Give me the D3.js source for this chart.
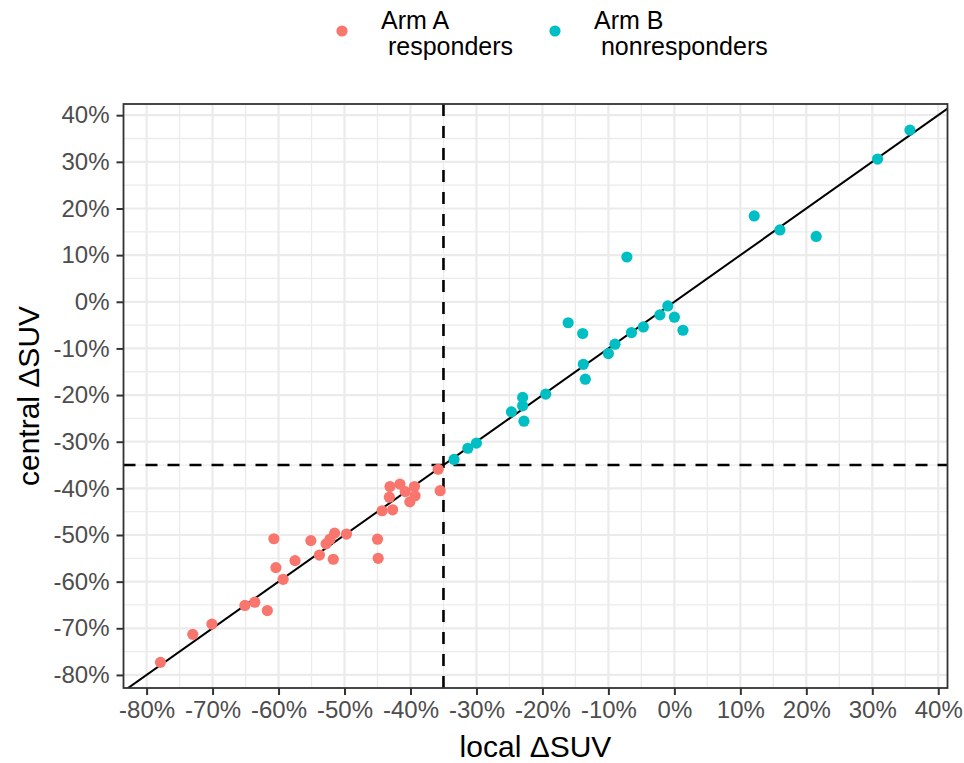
<!DOCTYPE html>
<html>
<head>
<meta charset="utf-8">
<script src="https://cdn.jsdelivr.net/npm/d3@7"></script>
<style>
  body { margin: 0; background: #fff; }
  text { font-family: "Liberation Sans", Arial, sans-serif; }
</style>
</head>
<body>
<svg id="chart" width="964" height="763"></svg>
<script>
// local vs central change in SUV (%)
var armAlocal   = [-77.9, -73.0, -70.1, -65.1, -63.6, -61.7, -59.3, -60.4, -60.7, -57.5,
                   -55.1, -53.8, -52.8, -52.2, -51.5, -51.7, -49.7, -45.0, -44.9, -44.3,
                   -42.7, -43.1, -43.2, -41.6, -40.8, -40.1, -39.4, -39.3, -35.8, -35.5];
var armAcentral = [-77.3, -71.3, -69.1, -65.1, -64.4, -66.2, -59.5, -57.0, -50.8, -55.5,
                   -51.2, -54.3, -51.9, -50.9, -49.6, -55.2, -49.8, -50.9, -55.0, -44.8,
                   -44.6, -39.6, -41.9, -39.1, -40.7, -42.9, -39.6, -41.6, -35.9, -40.5];
var armBlocal   = [-33.4, -31.3, -30.0, -24.7, -23.0, -23.0, -22.8, -19.5, -16.1, -13.9,
                   -13.8, -13.5, -10.0, -9.0, -7.2, -6.5, -4.7, -2.2, -1.0, 0.0,
                   1.3, 12.1, 16.0, 21.5, 30.8, 35.7];
var armBcentral = [-33.8, -31.4, -30.3, -23.6, -20.5, -22.3, -25.6, -19.8, -4.5, -6.8,
                   -13.4, -16.6, -11.1, -9.1, 9.6, -6.6, -5.4, -2.8, -0.9, -3.3,
                   -6.1, 18.4, 15.4, 14.0, 30.6, 36.8];
var tickValues = [-80, -70, -60, -50, -40, -30, -20, -10, 0, 10, 20, 30, 40];
var cutoff = -35;
var groups = ['Arm A\n responders', 'Arm B\n nonresponders'];
var colors = ['#F8766D', '#00BFC4'];

var points = [];
armAlocal.forEach(function(v, i){ points.push({x: v, y: armAcentral[i], g: 0}); });
armBlocal.forEach(function(v, i){ points.push({x: v, y: armBcentral[i], g: 1}); });

var svg = d3.select('#chart');
var m = {left: 123.5, right: 16.5, top: 104, bottom: 75};
var W = 964, H = 763;

var x = d3.scaleLinear().domain([-83.5, 41.4]).range([m.left, W - m.right]);
var y = d3.scaleLinear().domain([-82.8, 42.4]).range([H - m.bottom, m.top]);

svg.append('defs').append('clipPath').attr('id', 'panel')
  .append('rect')
  .attr('x', m.left).attr('y', m.top)
  .attr('width', W - m.left - m.right).attr('height', H - m.top - m.bottom);

var plot = svg.append('g').attr('clip-path', 'url(#panel)');

// grid, minor then major
var minor = d3.range(-85, 45, 10);
plot.selectAll('.minx').data(minor).enter().append('line')
  .attr('x1', function(d){ return x(d); }).attr('x2', function(d){ return x(d); })
  .attr('y1', m.top).attr('y2', H - m.bottom)
  .style('stroke', '#EBEBEB').style('stroke-width', 1.3);
plot.selectAll('.miny').data(minor).enter().append('line')
  .attr('y1', function(d){ return y(d); }).attr('y2', function(d){ return y(d); })
  .attr('x1', m.left).attr('x2', W - m.right)
  .style('stroke', '#EBEBEB').style('stroke-width', 1.3);
plot.selectAll('.majx').data(tickValues).enter().append('line')
  .attr('x1', function(d){ return x(d); }).attr('x2', function(d){ return x(d); })
  .attr('y1', m.top).attr('y2', H - m.bottom)
  .style('stroke', '#EBEBEB').style('stroke-width', 2.2);
plot.selectAll('.majy').data(tickValues).enter().append('line')
  .attr('y1', function(d){ return y(d); }).attr('y2', function(d){ return y(d); })
  .attr('x1', m.left).attr('x2', W - m.right)
  .style('stroke', '#EBEBEB').style('stroke-width', 2.2);

// identity line
plot.append('line')
  .attr('x1', x(-90)).attr('y1', y(-90))
  .attr('x2', x(50)).attr('y2', y(50))
  .style('stroke', '#000').style('stroke-width', 2);

// cutoff lines
plot.append('line')
  .attr('x1', x(cutoff)).attr('x2', x(cutoff))
  .attr('y1', m.top).attr('y2', H - m.bottom)
  .style('stroke', '#000').style('stroke-width', 2.6).style('stroke-dasharray', '12,10');
plot.append('line')
  .attr('y1', y(cutoff)).attr('y2', y(cutoff))
  .attr('x1', m.left).attr('x2', W - m.right)
  .style('stroke', '#000').style('stroke-width', 2.6).style('stroke-dasharray', '12,10');

plot.selectAll('circle').data(points).enter().append('circle')
  .attr('cx', function(d){ return x(d.x); })
  .attr('cy', function(d){ return y(d.y); })
  .attr('r', 5.6)
  .style('fill', function(d){ return colors[d.g]; });

// axes
var fmt = function(d){ return d + '%'; };
var xAxis = svg.append('g').attr('transform', 'translate(0,' + (H - m.bottom) + ')')
  .call(d3.axisBottom(x).tickValues(tickValues).tickFormat(fmt).tickSize(7).tickPadding(6));
var yAxis = svg.append('g').attr('transform', 'translate(' + m.left + ',0)')
  .call(d3.axisLeft(y).tickValues(tickValues).tickFormat(fmt).tickSize(7).tickPadding(7));
[xAxis, yAxis].forEach(function(a){
  a.select('.domain').remove();
  a.selectAll('.tick line').style('stroke', '#333').style('stroke-width', 2);
  a.selectAll('.tick text').style('fill', '#4D4D4D').style('font-size', '24px')
    .style('font-family', '"Liberation Sans", Arial, sans-serif');
});

// panel border
svg.append('rect')
  .attr('x', m.left).attr('y', m.top)
  .attr('width', W - m.left - m.right).attr('height', H - m.top - m.bottom)
  .style('fill', 'none').style('stroke', '#333').style('stroke-width', 1.8);

// axis titles
svg.append('text')
  .attr('x', (m.left + W - m.right) / 2).attr('y', 757)
  .attr('text-anchor', 'middle').style('font-size', '30px').style('fill', '#000')
  .text('local \u0394SUV');
svg.append('text')
  .attr('transform', 'translate(39,' + ((m.top + H - m.bottom) / 2) + ') rotate(-90)')
  .attr('text-anchor', 'middle').style('font-size', '30px').style('fill', '#000')
  .text('central \u0394SUV');

// legend
var legendX = [342, 555];
var leg = svg.selectAll('.leg').data(groups).enter().append('g')
  .attr('transform', function(d, i){ return 'translate(' + legendX[i] + ',31)'; });
leg.append('circle').attr('r', 5.6).style('fill', function(d, i){ return colors[i]; });
leg.each(function(d){
  var t = d3.select(this).append('text').style('font-size', '25px').style('fill', '#000');
  d.split('\n').forEach(function(line, j){
    t.append('tspan').attr('x', 39).attr('y', j === 0 ? -2 : 24)
      .style('white-space', 'pre').text(line);
  });
});
</script>
</body>
</html>
